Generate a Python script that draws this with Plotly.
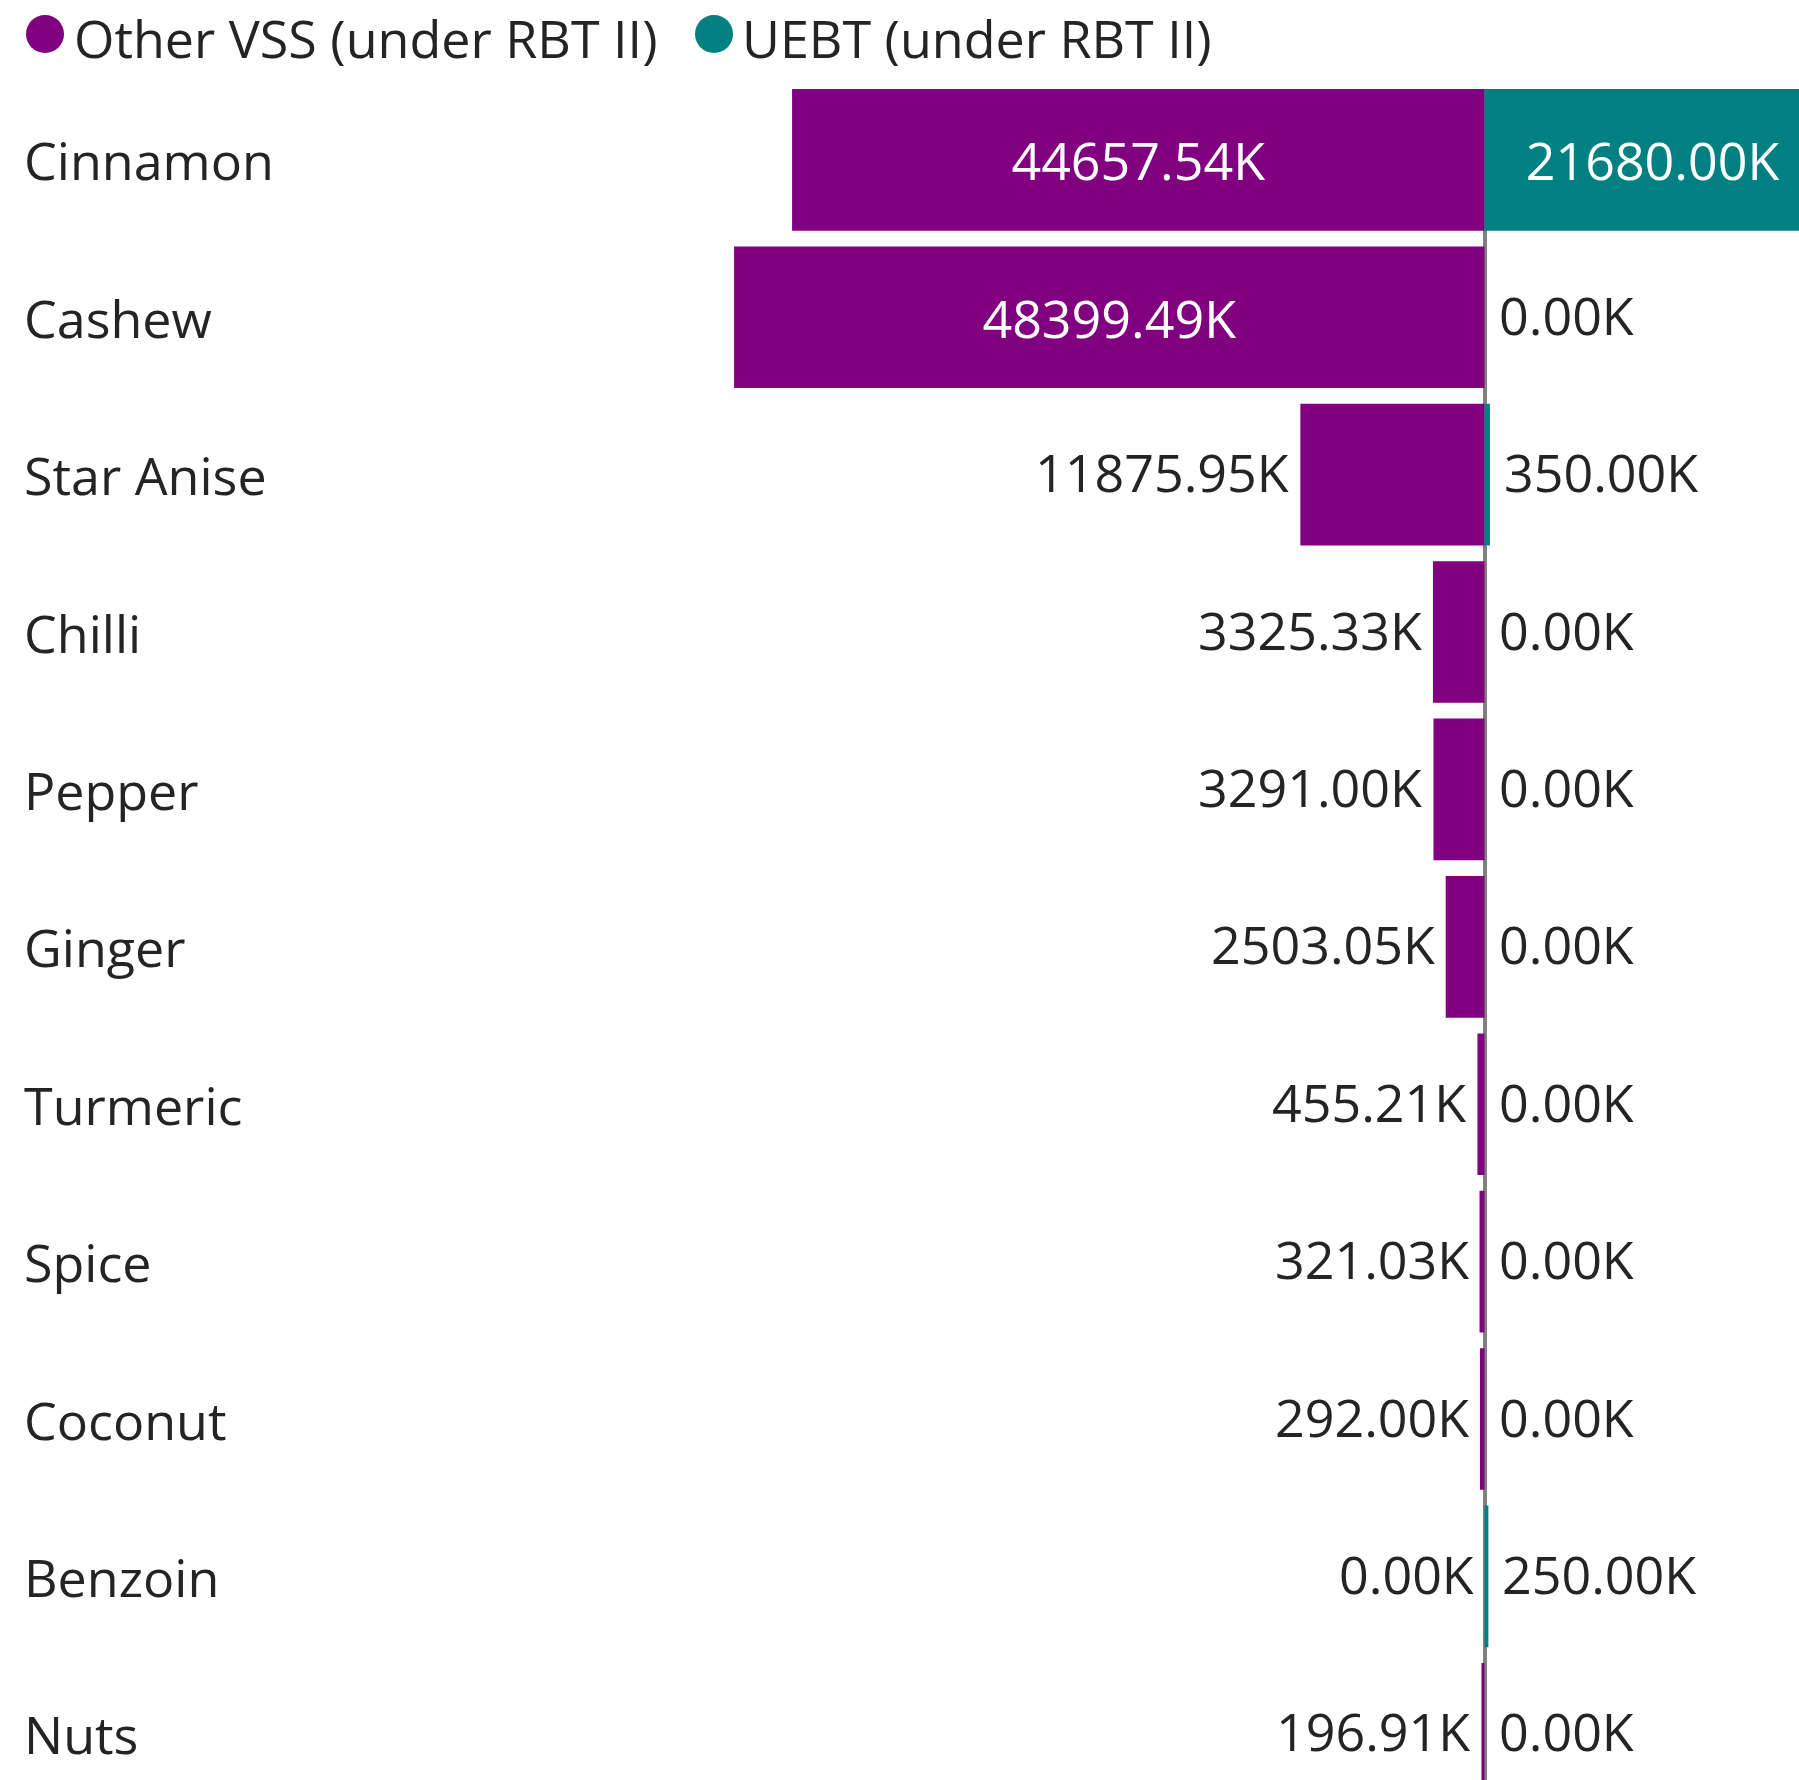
import plotly.graph_objects as go

# ---- data ----
categories = ["Cinnamon", "Cashew", "Star Anise", "Chilli", "Pepper", "Ginger",
              "Turmeric", "Spice", "Coconut", "Benzoin", "Nuts"]
other_vss = [44657.54, 48399.49, 11875.95, 3325.33, 3291.00, 2503.05,
             455.21, 321.03, 292.00, 0.00, 196.91]
uebt = [21680.00, 0.00, 350.00, 0.00, 0.00, 0.00,
        0.00, 0.00, 0.00, 250.00, 0.00]
series_names = ["Other VSS (under RBT II)", "UEBT (under RBT II)"]

# ---- style ----
W, H = 1799, 1780
PURPLE = "#800080"
TEAL = "#008080"
TXT = "#252423"
FONT = "Open Sans"
FS = 52
INSIDE_MIN = 20000  # labels placed inside bars wide enough
TOP = 89
PITCH = 157.4
BAR_FRAC = 0.9


def fmt(v):
    return f"{v:.2f}K"


fig = go.Figure()
fig.add_trace(go.Bar(
    y=categories, x=[-v for v in other_vss], orientation="h",
    name=series_names[0], marker=dict(color=PURPLE, line=dict(width=0)),
    text=[fmt(v) if v >= INSIDE_MIN else "" for v in other_vss],
    textposition="inside", insidetextanchor="middle", textangle=0,
    textfont=dict(color="white", size=FS, family=FONT),
    hoverinfo="skip", showlegend=False,
))
fig.add_trace(go.Bar(
    y=categories, x=uebt, orientation="h",
    name=series_names[1], marker=dict(color=TEAL, line=dict(width=0)),
    text=[fmt(v) if v >= INSIDE_MIN else "" for v in uebt],
    textposition="inside", insidetextanchor="middle", textangle=0,
    textfont=dict(color="white", size=FS, family=FONT),
    hoverinfo="skip", showlegend=False,
))

annotations = []
for cat, v in zip(categories, other_vss):
    if v < INSIDE_MIN:
        annotations.append(dict(x=-v, y=cat, xref="x", yref="y", text=fmt(v),
                                xanchor="right", yanchor="middle", xshift=-9, yshift=3,
                                showarrow=False, font=dict(size=FS, color=TXT, family=FONT)))
for cat, v in zip(categories, uebt):
    if v < INSIDE_MIN:
        annotations.append(dict(x=v, y=cat, xref="x", yref="y", text=fmt(v),
                                xanchor="left", yanchor="middle", xshift=12, yshift=3,
                                showarrow=False, font=dict(size=FS, color=TXT, family=FONT)))
for cat in categories:
    annotations.append(dict(x=22 / W, y=cat, xref="paper", yref="y", text=cat,
                            xanchor="left", yanchor="middle", yshift=0,
                            showarrow=False, font=dict(size=FS, color=TXT, family=FONT)))

# legend (drawn manually for large circular markers)
plot_h = H - TOP
leg_circle_y = (H - 34) / plot_h
leg_text_y = (H - 37) / plot_h
leg_items = [(series_names[0], PURPLE, 45, 72), (series_names[1], TEAL, 714, 740)]
shapes = []
for name, col, cx, tx in leg_items:
    shapes.append(dict(type="circle", xref="paper", yref="paper",
                       xsizemode="pixel", ysizemode="pixel",
                       xanchor=cx / W, yanchor=leg_circle_y,
                       x0=-19, x1=19, y0=-19, y1=19,
                       fillcolor=col, line=dict(width=0)))
    annotations.append(dict(x=tx / W, y=leg_text_y, xref="paper", yref="paper", text=name,
                            xanchor="left", yanchor="middle", showarrow=False,
                            font=dict(size=FS, color=TXT, family=FONT)))

PX_PER_K = 0.015505
ZERO_PX = 1484.5
top_idx = -BAR_FRAC / 2
fig.update_layout(
    width=W, height=H,
    margin=dict(l=0, r=0, t=TOP, b=0, pad=0),
    paper_bgcolor="white", plot_bgcolor="white",
    barmode="relative", bargap=1 - BAR_FRAC,
    font=dict(family=FONT, size=FS, color=TXT),
    xaxis=dict(range=[-ZERO_PX / PX_PER_K, (W - ZERO_PX) / PX_PER_K],
               showgrid=False, showticklabels=False, zeroline=True,
               zerolinecolor="#808080", zerolinewidth=4, fixedrange=True),
    yaxis=dict(type="category", categoryorder="array", categoryarray=categories,
               range=[top_idx + plot_h / PITCH, top_idx], autorange=False,
               showgrid=False, showticklabels=False, zeroline=False, fixedrange=True),
    annotations=annotations, shapes=shapes,
    showlegend=False,
)

fig.write_html("out.html", config={"displayModeBar": False},
               post_script="document.body.style.margin='0';document.body.style.overflow='hidden';")
